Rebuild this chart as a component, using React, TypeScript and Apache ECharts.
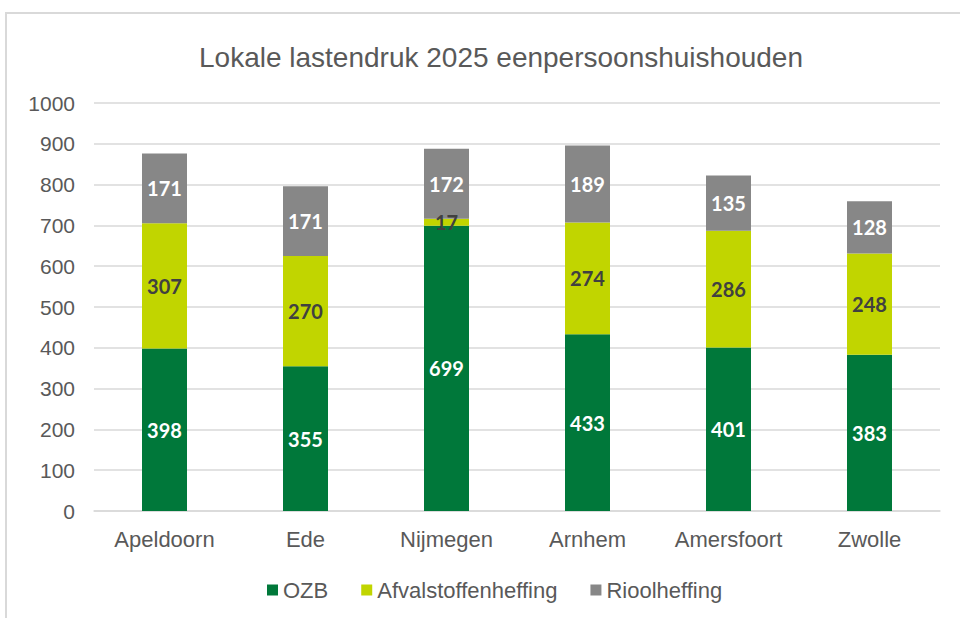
import React, { useEffect, useRef } from "react";
import * as echarts from "echarts";

const categories = ["Apeldoorn", "Ede", "Nijmegen", "Arnhem", "Amersfoort", "Zwolle"];
const ozb = [398, 355, 699, 433, 401, 383];
const afval = [307, 270, 17, 274, 286, 248];
const riool = [171, 171, 172, 189, 135, 128];

const labelFont = "Lato, 'Open Sans', sans-serif";
const textFont = "'Liberation Sans', Arial, sans-serif";

export default function App() {
  const ref = useRef<HTMLDivElement>(null);
  useEffect(() => {
    if (!ref.current) return;
    const chart = echarts.init(ref.current, null, { renderer: "svg" });
    const mkLabel = (color: string) => ({
      show: true,
      position: "inside" as const,
      color,
      fontFamily: labelFont,
      fontWeight: "bold" as const,
      fontSize: 20,
    });
    chart.setOption({
      animation: false,
      backgroundColor: "#ffffff",
      title: {
        text: "Lokale lastendruk 2025 eenpersoonshuishouden",
        left: 496,
        textAlign: "center",
        top: 38,
        textStyle: { color: "#595959", fontFamily: textFont, fontWeight: "normal", fontSize: 28 },
      },
      graphic: [
        {
          type: "rect",
          shape: { x: 6, y: 13, width: 1000, height: 700 },
          style: { fill: "none", stroke: "#d9d9d9", lineWidth: 2 },
          silent: true,
          z: -1,
        },
      ],
      legend: {
        bottom: 12,
        left: 262,
        itemWidth: 11,
        itemHeight: 11,
        itemGap: 33,
        icon: "rect",
        textStyle: { color: "#595959", fontFamily: textFont, fontSize: 22 },
        data: ["OZB", "Afvalstoffenheffing", "Rioolheffing"],
      },
      grid: { left: 94, right: 20, top: 103, bottom: 107 },
      xAxis: {
        type: "category",
        data: categories,
        axisLine: { lineStyle: { color: "#d9d9d9", width: 1.5 } },
        axisTick: { show: false },
        axisLabel: { color: "#595959", fontFamily: textFont, fontSize: 22, margin: 17 },
      },
      yAxis: {
        type: "value",
        min: 0,
        max: 1000,
        interval: 100,
        axisLine: { show: false },
        axisTick: { show: false },
        axisLabel: {
          color: "#595959",
          fontFamily: textFont,
          fontSize: 21,
          margin: 19,
          formatter: (v: number) => String(v),
        },
        splitLine: { lineStyle: { color: "#d9d9d9", width: 1.5 } },
      },
      series: [
        {
          name: "OZB",
          type: "bar",
          stack: "total",
          barWidth: 45,
          data: ozb,
          itemStyle: { color: "#00783A" },
          label: mkLabel("#ffffff"),
        },
        {
          name: "Afvalstoffenheffing",
          type: "bar",
          stack: "total",
          data: afval,
          itemStyle: { color: "#C1D500" },
          label: mkLabel("#404040"),
        },
        {
          name: "Rioolheffing",
          type: "bar",
          stack: "total",
          data: riool,
          itemStyle: { color: "#878787" },
          label: mkLabel("#ffffff"),
        },
      ],
    });
    return () => chart.dispose();
  }, []);
  return <div ref={ref} style={{ width: 960, height: 618, position: "fixed", left: 0, top: 0 }} />;
}
